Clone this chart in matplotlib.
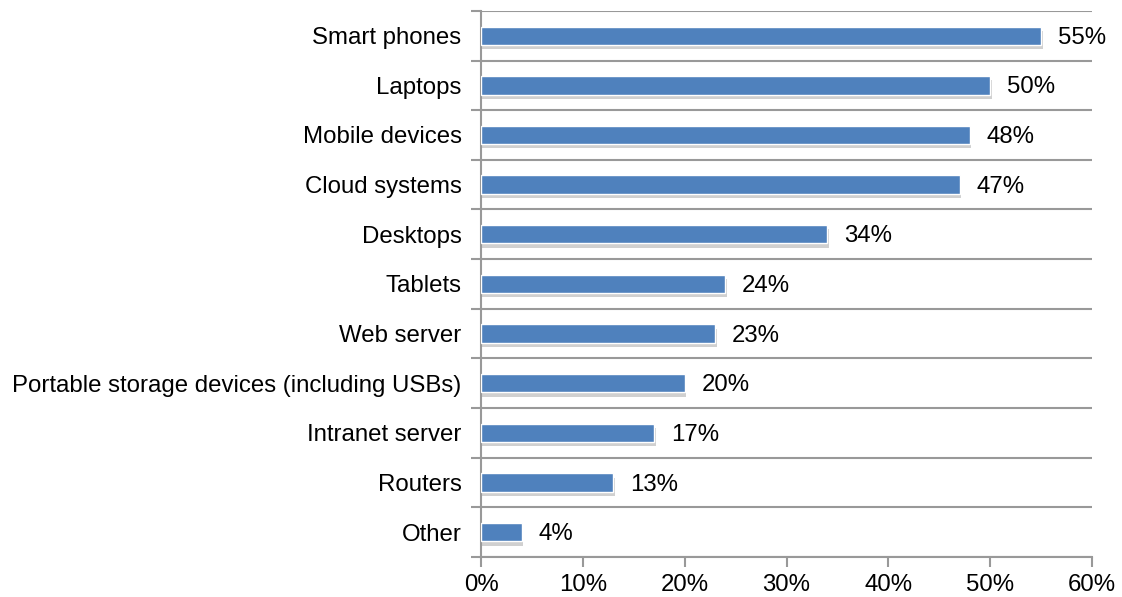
import matplotlib.pyplot as plt
import matplotlib.patheffects as pe
import numpy as np
from matplotlib.ticker import FixedLocator, PercentFormatter

plt.rcParams["font.family"] = ["Liberation Sans", "DejaVu Sans"]

categories = [
    "Smart phones", "Laptops", "Mobile devices", "Cloud systems", "Desktops",
    "Tablets", "Web server", "Portable storage devices (including USBs)",
    "Intranet server", "Routers", "Other",
]
shares = [55, 50, 48, 47, 34, 24, 23, 20, 17, 13, 4]
x_ticks = [0, 10, 20, 30, 40, 50, 60]

BAR_COLOR = "#4F81BD"
GRID_COLOR = "#999999"
FS = 17.3

fig = plt.figure(figsize=(11.22, 5.97), dpi=100)
ax = fig.add_axes([0.4287, 0.067, 0.5446, 0.9148])

y = np.arange(len(categories))
bars = ax.barh(y, shares, height=0.37, color=BAR_COLOR, edgecolor="white",
               linewidth=1.0, zorder=3)
# soft drop shadow under each bar
for b in bars:
    b.set_path_effects([pe.SimplePatchShadow(offset=(1.0, -3), alpha=0.3,
                                             shadow_rgbFace="#666666"),
                        pe.Normal()])

for yi, v in zip(y, shares):
    ax.annotate(f"{v}%", (v, yi), xytext=(12, -1.5), textcoords="offset points",
                va="center", ha="left", fontsize=FS)

ax.set_ylim(len(categories) - 0.5, -0.5)
ax.set_xlim(0, 60)
ax.set_yticks(y)
ax.set_yticklabels(categories, fontsize=FS)
ax.yaxis.set_minor_locator(FixedLocator(np.arange(-0.5, len(categories), 1)))
ax.tick_params(axis="y", which="major", length=0, pad=14)
ax.tick_params(axis="y", which="minor", length=7, width=1.5, color=GRID_COLOR)

ax.set_xticks(x_ticks)
ax.xaxis.set_major_formatter(PercentFormatter(decimals=0))
ax.tick_params(axis="x", length=7, width=1.5, color=GRID_COLOR,
               labelsize=FS, pad=5)

ax.grid(axis="y", which="minor", color=GRID_COLOR, linewidth=1.5, zorder=0)
ax.set_axisbelow(True)
for side in ("top", "right"):
    ax.spines[side].set_visible(False)
for side in ("left", "bottom"):
    ax.spines[side].set_color(GRID_COLOR)
    ax.spines[side].set_linewidth(1.5)

fig.savefig("out.png", dpi=100)
